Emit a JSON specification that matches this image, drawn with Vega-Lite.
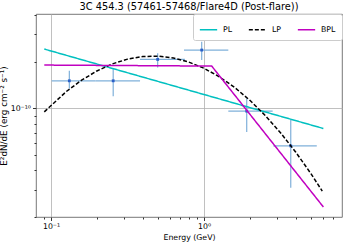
{
  "$schema": "https://vega.github.io/schema/vega-lite/v6.json",
  "width": 306,
  "height": 203,
  "autosize": {"type": "none"},
  "padding": {"left": 36, "top": 14, "right": 4, "bottom": 28},
  "title": {"text": "3C 454.3 (57461-57468/Flare4D (Post-flare))", "font": "DejaVu Sans", "fontSize": 9.8, "fontWeight": "normal", "color": "#000", "offset": 2},
  "config": {
    "view": {"stroke": "#555", "strokeWidth": 0.8},
    "axis": {"domain": false, "labelFont": "DejaVu Sans", "titleFont": "DejaVu Sans", "labelColor": "#000", "titleColor": "#000", "titleFontWeight": "normal", "labelFontSize": 7.8, "titleFontSize": 7.8, "tickColor": "#333", "gridColor": "#b0b0b0", "gridWidth": 0.8}
  },
  "datasets": {
    "pts": [
      {"E": 0.1318, "Elo": 0.101, "Ehi": 0.195, "F": 1.507e-10, "Flo": 1.346e-10, "Fhi": 1.748e-10},
      {"E": 0.255, "Elo": 0.195, "Ehi": 0.382, "F": 1.507e-10, "Flo": 1.20e-10, "Fhi": 1.811e-10},
      {"E": 0.498, "Elo": 0.382, "Ehi": 0.751, "F": 2.07e-10, "Flo": 1.839e-10, "Fhi": 2.264e-10},
      {"E": 0.966, "Elo": 0.740, "Ehi": 1.442, "F": 2.377e-10, "Flo": 2.05e-10, "Fhi": 2.69e-10},
      {"E": 1.902, "Elo": 1.442, "Ehi": 2.81, "F": 9.61e-11, "Flo": 7.06e-11, "Fhi": 1.16e-10},
      {"E": 3.69, "Elo": 2.84, "Ehi": 5.46, "F": 5.74e-11, "Flo": 3.09e-11, "Fhi": 8.49e-11}
    ],
    "lines": [
      {"model": "PL", "E": 0.0904, "F": 2.413e-10},
      {"model": "PL", "E": 6.03, "F": 7.43e-11},
      {"model": "LP", "E": 0.0904, "F": 9.51e-11},
      {"model": "LP", "E": 0.1259, "F": 1.285e-10},
      {"model": "LP", "E": 0.1585, "F": 1.521e-10},
      {"model": "LP", "E": 0.1995, "F": 1.744e-10},
      {"model": "LP", "E": 0.2512, "F": 1.935e-10},
      {"model": "LP", "E": 0.3162, "F": 2.078e-10},
      {"model": "LP", "E": 0.3981, "F": 2.159e-10},
      {"model": "LP", "E": 0.5012, "F": 2.171e-10},
      {"model": "LP", "E": 0.631, "F": 2.113e-10},
      {"model": "LP", "E": 0.7943, "F": 1.990e-10},
      {"model": "LP", "E": 1.0, "F": 1.814e-10},
      {"model": "LP", "E": 1.259, "F": 1.600e-10},
      {"model": "LP", "E": 1.585, "F": 1.366e-10},
      {"model": "LP", "E": 1.995, "F": 1.128e-10},
      {"model": "LP", "E": 2.512, "F": 9.02e-11},
      {"model": "LP", "E": 3.162, "F": 6.98e-11},
      {"model": "LP", "E": 3.981, "F": 5.23e-11},
      {"model": "LP", "E": 5.012, "F": 3.79e-11},
      {"model": "LP", "E": 5.93, "F": 2.936e-11},
      {"model": "BPL", "E": 0.0904, "F": 1.903e-10},
      {"model": "BPL", "E": 1.123, "F": 1.875e-10},
      {"model": "BPL", "E": 6.03, "F": 2.32e-11}
    ]
  },
  "encoding": {
    "x": {"type": "quantitative", "scale": {"type": "log", "domain": [0.0798, 7.98], "nice": false},
      "axis": {"title": "Energy (GeV)", "titlePadding": 3, "labelPadding": 2,
        "values": [0.09, 0.1, 0.2, 0.3, 0.4, 0.5, 0.6, 0.7, 0.8, 0.9, 1, 2, 3, 4, 5, 6, 7],
        "labelExpr": "datum.value == 0.1 ? '10⁻¹' : (datum.value == 1 ? '10⁰' : '')",
        "tickSize": {"condition": {"test": "datum.value == 0.1 || datum.value == 1", "value": 3.5}, "value": 2},
        "gridOpacity": {"condition": {"test": "datum.value == 0.1 || datum.value == 1", "value": 1}, "value": 0}}},
    "y": {"type": "quantitative", "scale": {"type": "log", "domain": [2.0e-11, 4.058e-10], "nice": false},
      "axis": {"title": "E²dN/dE (erg cm⁻² s⁻¹)", "titleFontSize": 8.8, "titlePadding": 2, "labelPadding": 2,
        "values": [2e-11, 3e-11, 4e-11, 5e-11, 6e-11, 7e-11, 8e-11, 9e-11, 1e-10, 2e-10, 3e-10, 4e-10],
        "labelExpr": "abs(datum.value - 1e-10) < 1e-14 ? '10⁻¹⁰' : ''",
        "tickSize": {"condition": {"test": "abs(datum.value - 1e-10) < 1e-14", "value": 3.5}, "value": 2},
        "gridOpacity": {"condition": {"test": "abs(datum.value - 1e-10) < 1e-14", "value": 1}, "value": 0}}}
  },
  "layer": [
    {"data": {"name": "pts"}, "mark": {"type": "rule", "color": "#7fb0da", "strokeWidth": 1.2},
      "encoding": {"x": {"field": "Elo"}, "x2": {"field": "Ehi"}, "y": {"field": "F"}}},
    {"data": {"name": "pts"}, "mark": {"type": "rule", "color": "#7fb0da", "strokeWidth": 1.2},
      "encoding": {"x": {"field": "E"}, "y": {"field": "Flo"}, "y2": {"field": "Fhi"}}},
    {"data": {"name": "pts"}, "mark": {"type": "point", "shape": "square", "filled": true, "size": 8, "color": "#2b5fc8", "opacity": 1},
      "encoding": {"x": {"field": "E"}, "y": {"field": "F"}}},
    {"data": {"name": "lines"}, "mark": {"type": "line", "strokeWidth": 1.5},
      "encoding": {
        "x": {"field": "E"}, "y": {"field": "F"},
        "color": {"field": "model", "type": "nominal", "scale": {"domain": ["PL", "LP", "BPL"], "range": ["#00c0c0", "#000000", "#c000c0"]},
          "legend": {"title": null, "orient": "top-right", "direction": "horizontal", "offset": 0, "padding": 6, "fillColor": "#ffffff", "strokeColor": "#cccccc", "cornerRadius": 2,
            "symbolType": "stroke", "symbolSize": 300, "symbolStrokeWidth": 1.5, "labelFont": "DejaVu Sans", "labelFontSize": 7.8, "labelColor": "#000", "columnPadding": 12, "labelOffset": 5}},
        "strokeDash": {"field": "model", "type": "nominal", "scale": {"domain": ["PL", "LP", "BPL"], "range": [[1, 0], [4, 2], [1, 0]]}}
      }}
  ]
}
